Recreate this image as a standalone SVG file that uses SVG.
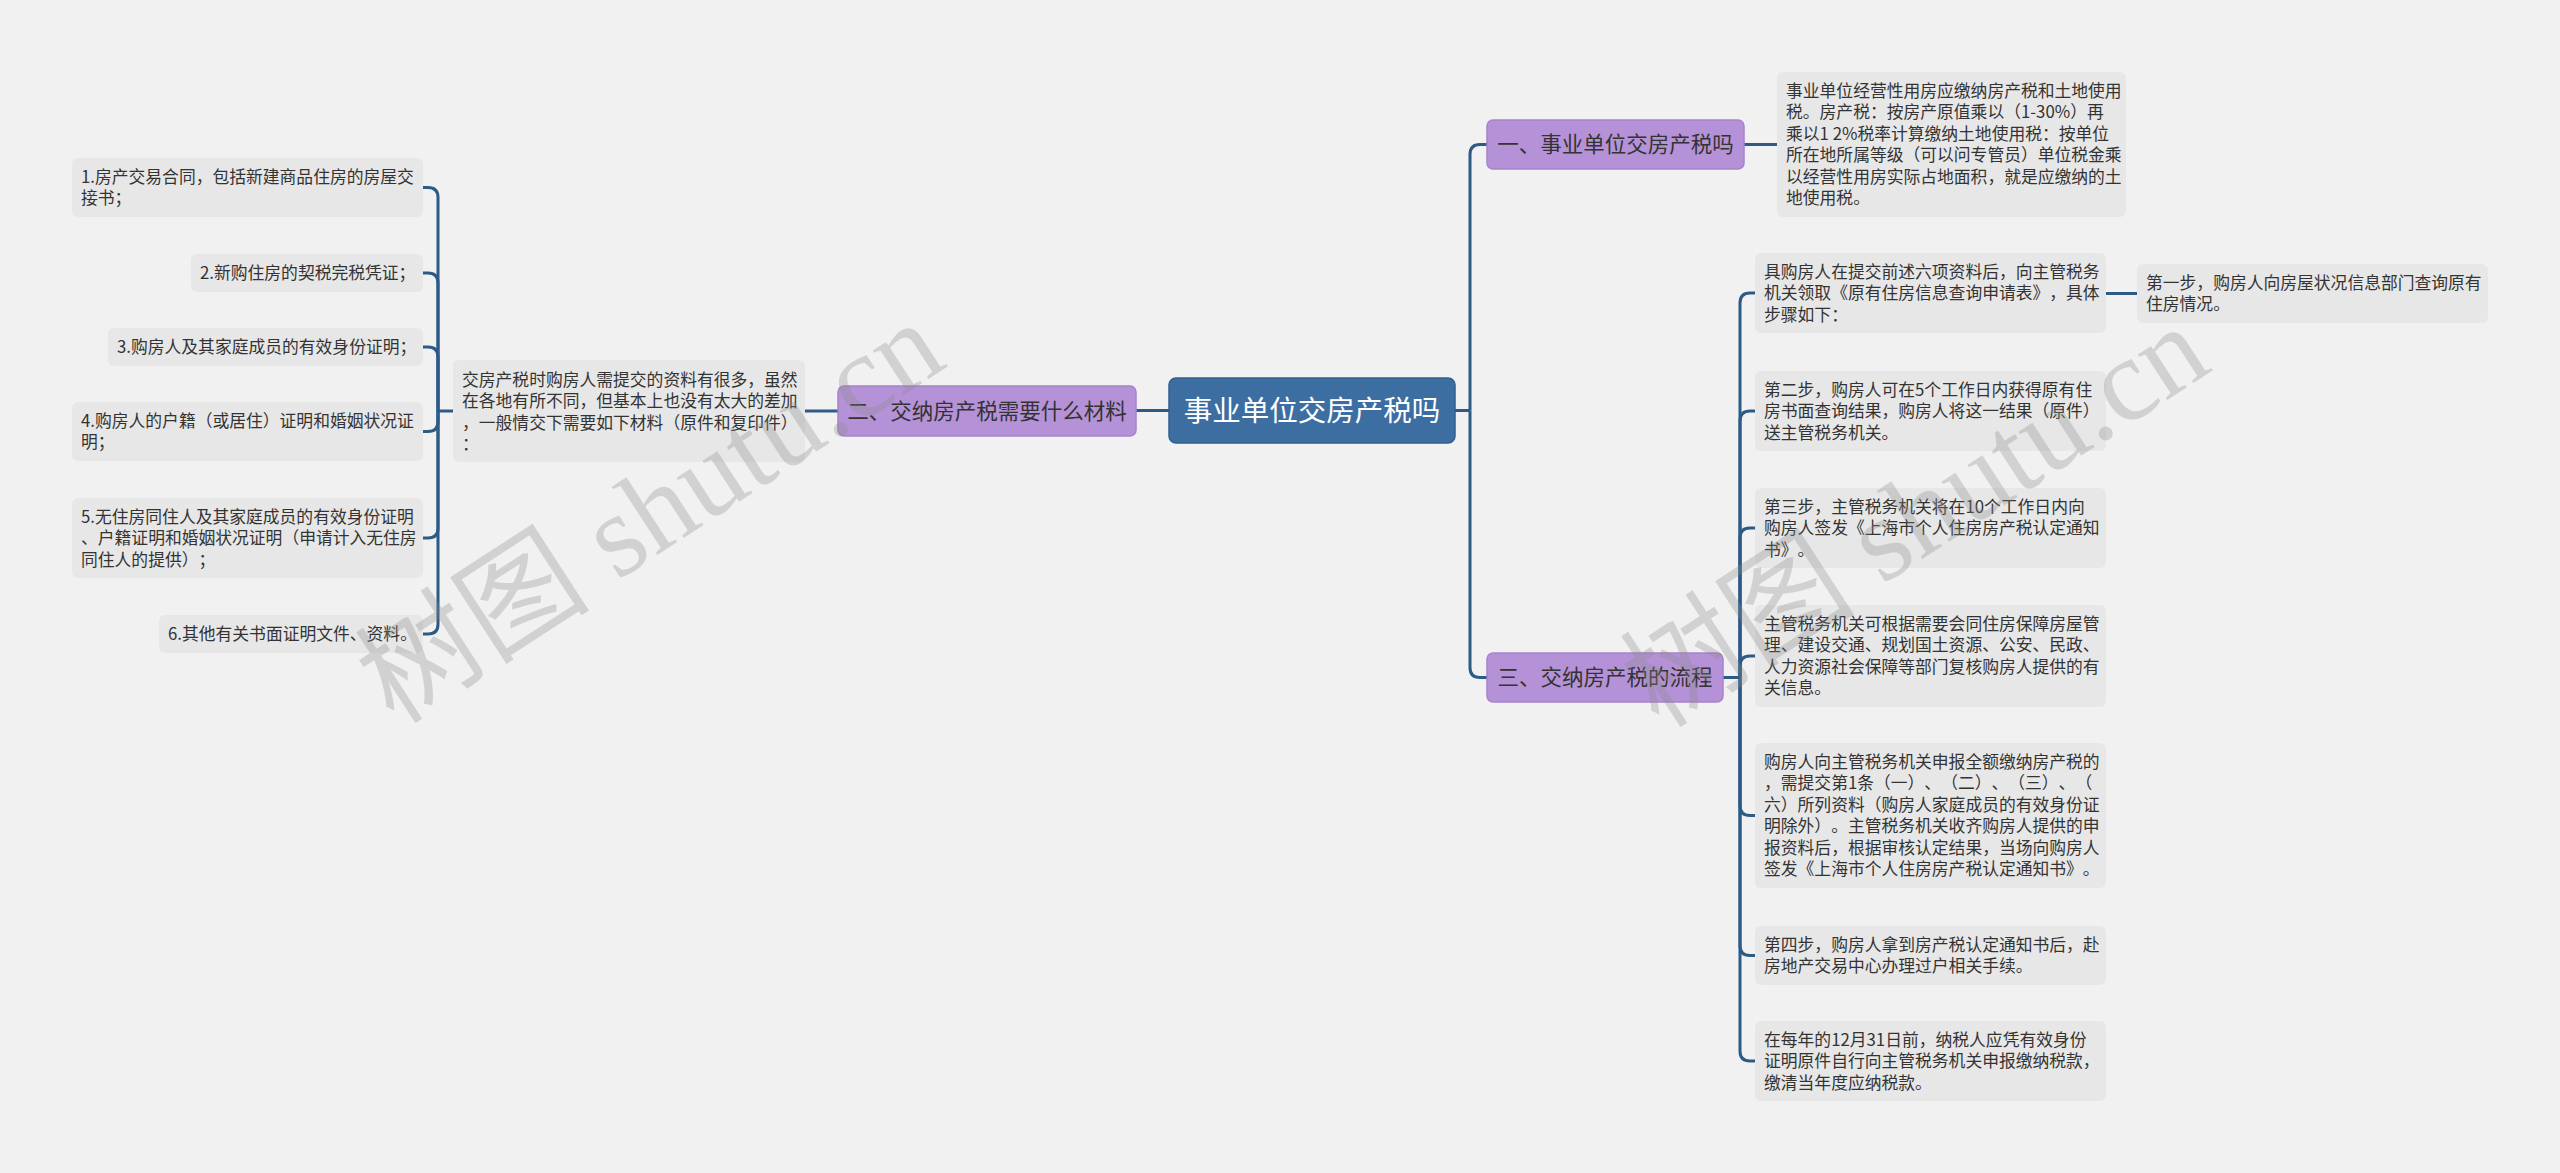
<svg xmlns="http://www.w3.org/2000/svg" width="2560" height="1173" viewBox="0 0 2560 1173">
<style>
.bg{fill:#f1f1f1}
.leaf{fill:#e7e7e7}
.t{font-family:"Noto Sans CJK SC","Liberation Sans",sans-serif;font-size:16.8px;fill:#333;text-spacing-trim:space-all}
.sub{fill:#b592d7;stroke:#a683cb;stroke-width:1.5}
.st{font-family:"Noto Sans CJK SC","Liberation Sans",sans-serif;font-size:21.5px;fill:#333;text-anchor:middle;text-spacing-trim:space-all}
.root{fill:#3c6ea2;stroke:#30608f;stroke-width:1.5}
.rt{font-family:"Noto Sans CJK SC","Liberation Sans",sans-serif;font-size:28.5px;fill:#fff;text-anchor:middle}
.c{fill:none;stroke:#2d5b86;stroke-width:3}
.wm{font-family:"Liberation Serif","Noto Sans CJK SC",serif;font-size:118px;fill:#8a8a8a;opacity:0.3;text-anchor:middle}
</style>
<rect class="bg" x="0" y="0" width="2560" height="1173"/>

<g id="connectors">
<path class="c" d="M1169 410.5 H1136"/>
<path class="c" d="M838 411 H805"/>
<path class="c" d="M453 411 H438"/>
<path class="c" d="M438 411 V197.5 Q438 187.5 428 187.5 H423"/>
<path class="c" d="M438 411 V283 Q438 273 428 273 H423"/>
<path class="c" d="M438 411 V357 Q438 347 428 347 H423"/>
<path class="c" d="M438 411 V421.5 Q438 431.5 428 431.5 H423"/>
<path class="c" d="M438 411 V528 Q438 538 428 538 H423"/>
<path class="c" d="M438 411 V624 Q438 634 428 634 H423"/>
<path class="c" d="M1455 410.5 H1470"/>
<path class="c" d="M1470 410.5 V154.5 Q1470 144.5 1480 144.5 H1487"/>
<path class="c" d="M1470 410.5 V667.5 Q1470 677.5 1480 677.5 H1487"/>
<path class="c" d="M1744 144.5 H1777"/>
<path class="c" d="M1723 677.5 H1740"/>
<path class="c" d="M1740 677.5 V303 Q1740 293 1750 293 H1755"/>
<path class="c" d="M1740 677.5 V421 Q1740 411 1750 411 H1755"/>
<path class="c" d="M1740 677.5 V538 Q1740 528 1750 528 H1755"/>
<path class="c" d="M1740 677.5 V666 Q1740 656 1750 656 H1755"/>
<path class="c" d="M1740 677.5 V805.5 Q1740 815.5 1750 815.5 H1755"/>
<path class="c" d="M1740 677.5 V945.5 Q1740 955.5 1750 955.5 H1755"/>
<path class="c" d="M1740 677.5 V1051 Q1740 1061 1750 1061 H1755"/>
<path class="c" d="M2106 293.5 H2137"/>
</g>

<g id="root">
<rect class="root" x="1169" y="378" width="286" height="65" rx="7"/>
<text class="rt" x="1312" y="420.5">事业单位交房产税吗</text>
</g>

<g id="n2">
<rect class="sub" x="838" y="386" width="298" height="50" rx="6"/>
<text class="st" x="987" y="418.5">二、交纳房产税需要什么材料</text>
</g>
<g id="n1">
<rect class="sub" x="1487" y="120" width="257" height="49" rx="6"/>
<text class="st" x="1615.5" y="152">一、事业单位交房产税吗</text>
</g>
<g id="n3">
<rect class="sub" x="1487" y="653" width="236" height="49" rx="6"/>
<text class="st" x="1605" y="685">三、交纳房产税的流程</text>
</g>

<g id="p">
<rect class="leaf" x="453" y="360" width="352" height="102" rx="6"/>
<text class="t" x="462" y="385.75"><tspan x="462">交房产税时购房人需提交的资料有很多，虽然</tspan><tspan x="462" dy="21.5">在各地有所不同，但基本上也没有太大的差加</tspan><tspan x="462" dy="21.5">，一般情交下需要如下材料（原件和复印件）</tspan><tspan x="462" dy="21.5">：</tspan></text>
</g>

<g id="l1">
<rect class="leaf" x="72" y="158" width="351" height="59" rx="6"/>
<text class="t" x="81" y="182.75"><tspan x="81">1.房产交易合同，包括新建商品住房的房屋交</tspan><tspan x="81" dy="21.5">接书；</tspan></text>
</g>
<g id="l2">
<rect class="leaf" x="191" y="254" width="232" height="38" rx="6"/>
<text class="t" x="200" y="279">2.新购住房的契税完税凭证；</text>
</g>
<g id="l3">
<rect class="leaf" x="108" y="328" width="315" height="38" rx="6"/>
<text class="t" x="117" y="353">3.购房人及其家庭成员的有效身份证明；</text>
</g>
<g id="l4">
<rect class="leaf" x="72" y="402" width="351" height="59" rx="6"/>
<text class="t" x="81" y="426.75"><tspan x="81">4.购房人的户籍（或居住）证明和婚姻状况证</tspan><tspan x="81" dy="21.5">明；</tspan></text>
</g>
<g id="l5">
<rect class="leaf" x="72" y="498" width="351" height="80" rx="6"/>
<text class="t" x="81" y="522.5"><tspan x="81">5.无住房同住人及其家庭成员的有效身份证明</tspan><tspan x="81" dy="21.5">、户籍证明和婚姻状况证明（申请计入无住房</tspan><tspan x="81" dy="21.5">同住人的提供）；</tspan></text>
</g>
<g id="l6">
<rect class="leaf" x="159" y="615" width="264" height="38" rx="6"/>
<text class="t" x="168" y="640">6.其他有关书面证明文件、资料。</text>
</g>

<g id="o1">
<rect class="leaf" x="1777" y="72" width="349" height="145" rx="6"/>
<text class="t" x="1786" y="96.75"><tspan x="1786">事业单位经营性用房应缴纳房产税和土地使用</tspan><tspan x="1786" dy="21.5">税。房产税：按房产原值乘以（1-30%）再</tspan><tspan x="1786" dy="21.5">乘以1 2%税率计算缴纳土地使用税：按单位</tspan><tspan x="1786" dy="21.5">所在地所属等级（可以问专管员）单位税金乘</tspan><tspan x="1786" dy="21.5">以经营性用房实际占地面积，就是应缴纳的土</tspan><tspan x="1786" dy="21.5">地使用税。</tspan></text>
</g>

<g id="ra">
<rect class="leaf" x="1755" y="253" width="351" height="80" rx="6"/>
<text class="t" x="1764" y="277.5"><tspan x="1764">具购房人在提交前述六项资料后，向主管税务</tspan><tspan x="1764" dy="21.5">机关领取《原有住房信息查询申请表》，具体</tspan><tspan x="1764" dy="21.5">步骤如下：</tspan></text>
</g>
<g id="rb">
<rect class="leaf" x="2137" y="264" width="351" height="59" rx="6"/>
<text class="t" x="2146" y="288.75"><tspan x="2146">第一步，购房人向房屋状况信息部门查询原有</tspan><tspan x="2146" dy="21.5">住房情况。</tspan></text>
</g>
<g id="rc">
<rect class="leaf" x="1755" y="371" width="351" height="80" rx="6"/>
<text class="t" x="1764" y="395.5"><tspan x="1764">第二步，购房人可在5个工作日内获得原有住</tspan><tspan x="1764" dy="21.5">房书面查询结果，购房人将这一结果（原件）</tspan><tspan x="1764" dy="21.5">送主管税务机关。</tspan></text>
</g>
<g id="rd">
<rect class="leaf" x="1755" y="488" width="351" height="80" rx="6"/>
<text class="t" x="1764" y="512.5"><tspan x="1764">第三步，主管税务机关将在10个工作日内向</tspan><tspan x="1764" dy="21.5">购房人签发《上海市个人住房房产税认定通知</tspan><tspan x="1764" dy="21.5">书》。</tspan></text>
</g>
<g id="re">
<rect class="leaf" x="1755" y="605" width="351" height="102" rx="6"/>
<text class="t" x="1764" y="629.75"><tspan x="1764">主管税务机关可根据需要会同住房保障房屋管</tspan><tspan x="1764" dy="21.5">理、建设交通、规划国土资源、公安、民政、</tspan><tspan x="1764" dy="21.5">人力资源社会保障等部门复核购房人提供的有</tspan><tspan x="1764" dy="21.5">关信息。</tspan></text>
</g>
<g id="rf">
<rect class="leaf" x="1755" y="743" width="351" height="145" rx="6"/>
<text class="t" x="1764" y="767.75"><tspan x="1764">购房人向主管税务机关申报全额缴纳房产税的</tspan><tspan x="1764" dy="21.5">，需提交第1条（一）、（二）、（三）、（</tspan><tspan x="1764" dy="21.5">六）所列资料（购房人家庭成员的有效身份证</tspan><tspan x="1764" dy="21.5">明除外）。主管税务机关收齐购房人提供的申</tspan><tspan x="1764" dy="21.5">报资料后，根据审核认定结果，当场向购房人</tspan><tspan x="1764" dy="21.5">签发《上海市个人住房房产税认定通知书》。</tspan></text>
</g>
<g id="rg">
<rect class="leaf" x="1755" y="926" width="351" height="59" rx="6"/>
<text class="t" x="1764" y="950.75"><tspan x="1764">第四步，购房人拿到房产税认定通知书后，赴</tspan><tspan x="1764" dy="21.5">房地产交易中心办理过户相关手续。</tspan></text>
</g>
<g id="rh">
<rect class="leaf" x="1755" y="1021" width="351" height="80" rx="6"/>
<text class="t" x="1764" y="1045.5"><tspan x="1764">在每年的12月31日前，纳税人应凭有效身份</tspan><tspan x="1764" dy="21.5">证明原件自行向主管税务机关申报缴纳税款，</tspan><tspan x="1764" dy="21.5">缴清当年度应纳税款。</tspan></text>
</g>

<g id="watermark">
<text class="wm" transform="translate(650,512) rotate(-33)" x="0" y="40">树图 shutu.cn</text>
<text class="wm" transform="translate(1915,516) rotate(-33)" x="0" y="40">树图 shutu.cn</text>
</g>
</svg>
